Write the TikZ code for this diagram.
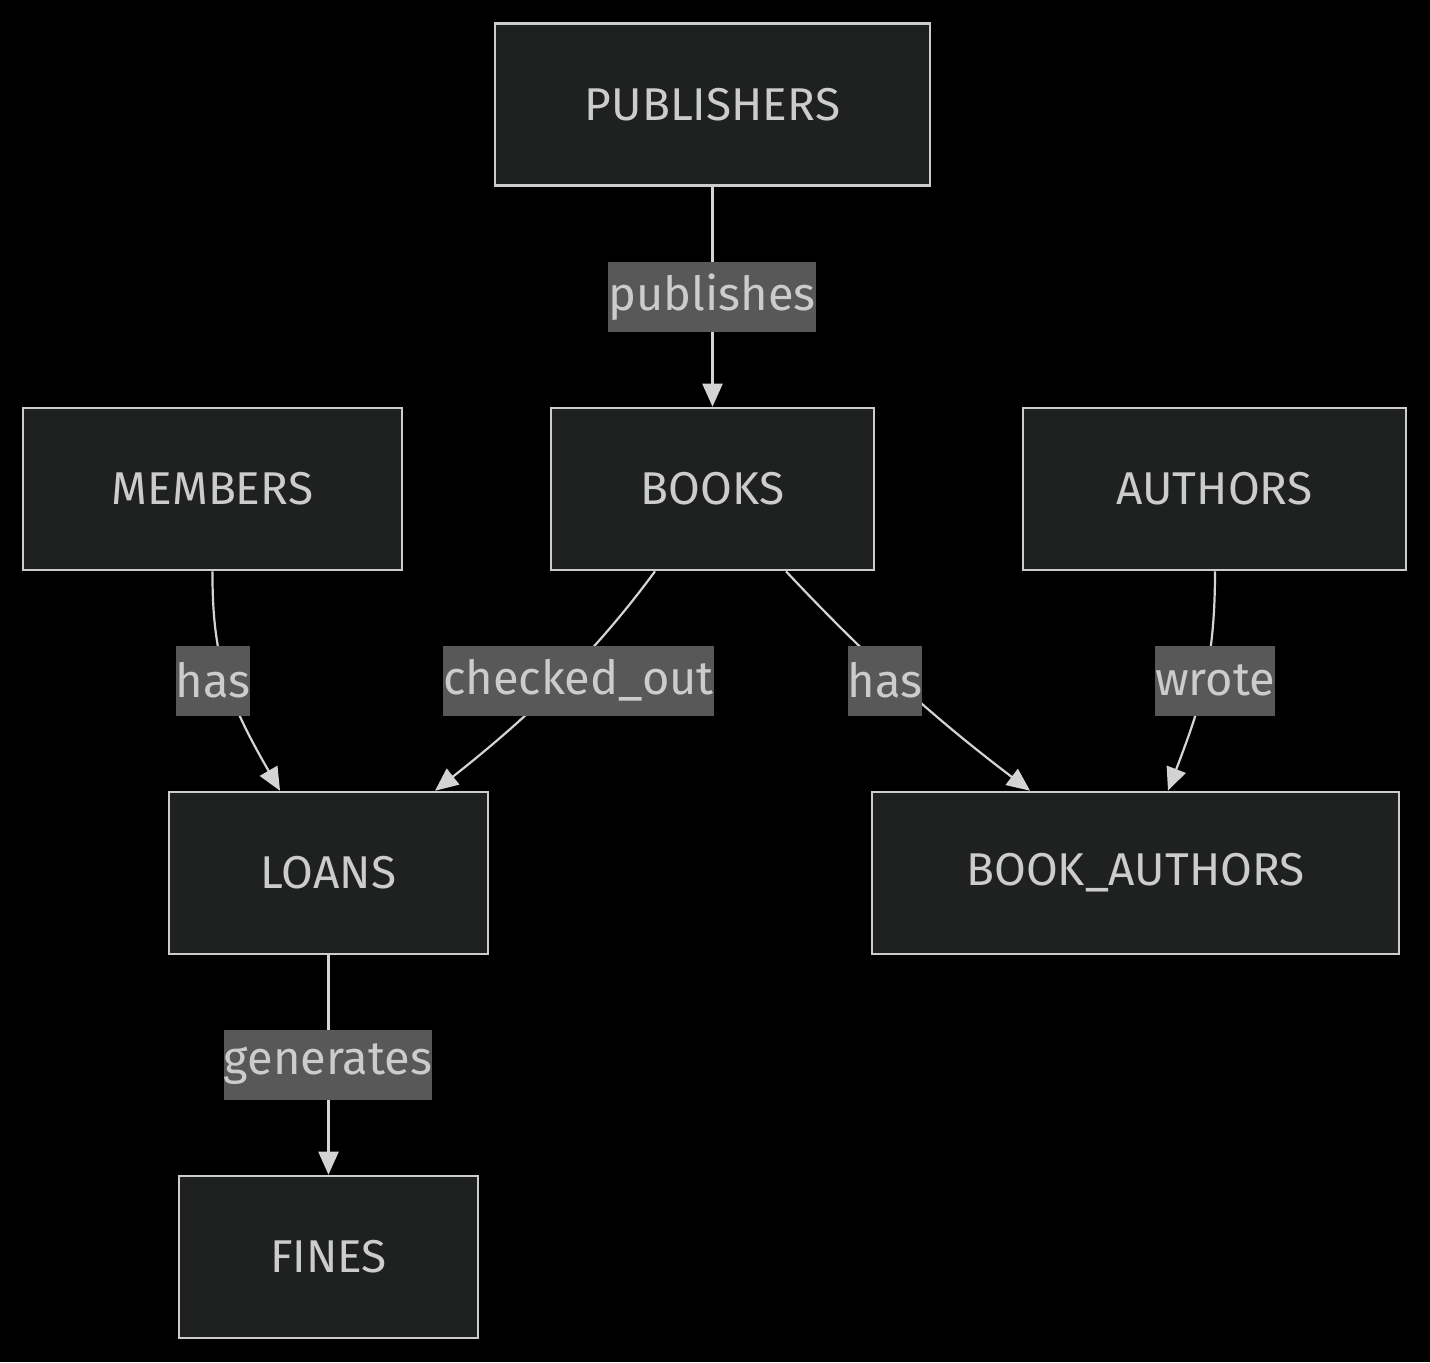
\documentclass[tikz,border=0pt]{standalone}
\usepackage{fontspec}
\setmainfont{Fira Sans}
\usetikzlibrary{arrows.meta,calc}
\definecolor{bgc}{HTML}{000000}
\definecolor{nodefill}{HTML}{1F2020}
\definecolor{nodeline}{HTML}{CCCCCC}
\definecolor{txt}{HTML}{CCCCCC}
\definecolor{lblfill}{HTML}{585858}
\definecolor{edgec}{HTML}{D3D3D3}
\begin{document}
\begin{tikzpicture}[x=0.5pt,y=-0.5pt,
  entity/.style={draw=nodeline,fill=nodefill,line width=1.3pt,text=txt,minimum height=81pt,inner sep=0pt,font=\fontsize{23}{27}\selectfont},
  elabel/.style={fill=lblfill,text=txt,inner xsep=0pt,inner ysep=0pt,minimum height=35pt,font=\fontsize{23.5}{27}\selectfont},
  conn/.style={draw=edgec,line width=1.1pt,-{Triangle[length=11.5pt,width=10pt]}}]
\fill[bgc] (0,0) rectangle (1430,1362);
\useasboundingbox (0,0) rectangle (1430,1362);
\node[entity,minimum width=217.5pt] (pub) at (712.5,104.5) {PUBLISHERS};
\node[entity,minimum width=189.5pt] (mem) at (212.5,489) {MEMBERS};
\node[entity,minimum width=161.5pt] (books) at (712.5,489) {BOOKS};
\node[entity,minimum width=191.5pt] (auth) at (1214.5,489) {AUTHORS};
\node[entity,minimum width=159.5pt] (loans) at (328.5,873) {LOANS};
\node[entity,minimum width=263.5pt] (ba) at (1135.5,873) {BOOK\_AUTHORS};
\node[entity,minimum width=149.5pt] (fines) at (328.5,1257) {FINES};
% edges
\draw[conn] (pub.south) -- (books.north);
\draw[conn] (mem.south) .. controls (212,660) and (229,702) .. ([xshift=-24.25pt]loans.north);
\draw[conn] ([xshift=-28.75pt]books.south) .. controls (597,650) and (535,712) .. ([xshift=53.25pt]loans.north);
\draw[conn] ([xshift=36.75pt]books.south) .. controls (860,650) and (926,712) .. ([xshift=-52.75pt]ba.north);
\draw[conn] ([xshift=0.25pt]auth.south) .. controls (1215,660) and (1202,702) .. ([xshift=16.25pt]ba.north);
\draw[conn] (loans.south) -- (fines.north);
% labels
\node[elabel] (l1) at (712,297) {publishes};
\node[elabel] (l2) at (213,680.5) {has};
\node[elabel] (l3) at (578.5,680.5) {checked\_out};
\node[elabel] (l4) at (885,680.5) {has};
\node[elabel] (l5) at (1215,680.5) {wrote};
\node[elabel] (l6) at (328,1064.5) {generates};
\end{tikzpicture}
\end{document}
